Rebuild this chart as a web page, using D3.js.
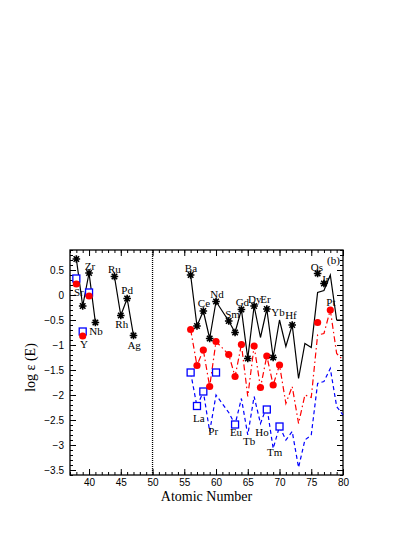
<!DOCTYPE html>
<meta charset="utf-8">
<style>
    body { margin: 0; background: #fff; }
    .tick text { font: 10px "Liberation Sans", sans-serif; }
    .el { font: 11px "Liberation Serif", serif; }
</style>
<svg width="415" height="537"></svg>
<script src="https://d3js.org/d3.v7.min.js"></script>
<script>
    // light elements (first two groups)
    var zFirst = [38, 39, 40, 41];
    var blackFirst = [0.72, -0.22, 0.44, -0.55];
    var zSecond = [44, 45, 46, 47];
    var blackSecond = [0.37, -0.41, -0.07, -0.81];

    // heavy elements
    var zHeavy = [56, 57, 58, 59, 60, 62, 63, 64, 65, 66, 67, 68, 69, 70, 71, 72, 73, 74, 75, 76, 77, 78, 79, 80];
    var blackHeavy = [0.40, -0.62, -0.32, -0.87, -0.13, -0.52, -0.75, -0.29, -1.27, -0.22, -0.85, -0.28, -1.25, -0.50, -1.03, -0.60, -1.67, -0.97, -1.05, 0.05, 0.09, 0.40, -0.50, -0.50];
    var redHeavy = [-0.69, -1.41, -1.10, -1.83, -0.93, -1.19, -1.63, -0.99, -2.03, -1.02, -1.85, -1.22, -1.80, -1.40, -2.17, -1.83, -2.57, -2.00, -2.05, -0.80, -0.77, -0.30, -1.17, -1.30];
    var blueHeavy = [-1.55, -2.23, -1.93, -2.73, -2.00, -2.35, -2.59, -2.07, -2.80, -2.03, -2.57, -2.23, -3.07, -2.63, -2.90, -2.73, -3.45, -2.90, -2.80, -1.77, -1.73, -1.47, -2.23, -2.40];

    // markers
    var starZ = [38, 39, 40, 41, 44, 45, 46, 47, 56, 57, 58, 59, 60, 62, 63, 64, 65, 66, 68, 69, 72, 76, 77];
    var starVals = [0.72, -0.22, 0.44, -0.55, 0.37, -0.41, -0.07, -0.81, 0.40, -0.62, -0.32, -0.87, -0.13, -0.52, -0.75, -0.29, -1.27, -0.22, -0.28, -1.25, -0.60, 0.43, 0.23];
    var redDotZ = [38, 39, 40, 56, 57, 58, 59, 60, 62, 63, 64, 66, 67, 68, 69, 70, 76, 78];
    var redDotVals = [0.22, -0.82, -0.02, -0.69, -1.41, -1.10, -1.83, -0.93, -1.19, -1.63, -0.99, -1.02, -1.85, -1.22, -1.80, -1.40, -0.55, -0.30];
    var blueSqZ = [38, 39, 40, 56, 57, 58, 60, 63, 68, 70];
    var blueSqVals = [0.33, -0.73, 0.05, -1.55, -2.22, -1.93, -1.55, -2.59, -2.29, -2.63];

    // element labels (position in data units)
    var labelText = ["Sr", "Zr", "Y", "Nb", "Ru", "Pd", "Rh", "Ag", "Ba", "Ce", "Nd", "Sm", "Gd", "Dy", "Er", "Yb", "Hf", "Os", "Ir", "Pt", "La", "Pr", "Eu", "Tb", "Ho", "Tm"];
    var labelZ = [38.4, 40.15, 39.2, 41.1, 44.0, 46.0, 45.15, 47.1, 56.05, 58.1, 60.15, 62.6, 64.15, 66.1, 67.8, 69.75, 71.8, 75.9, 77.3, 78.1, 57.3, 59.55, 63.15, 65.2, 67.25, 69.25];
    var labelY = [-0.02, 0.50, -1.06, -0.80, 0.44, 0.02, -0.66, -1.08, 0.46, -0.24, -0.06, -0.46, -0.22, -0.16, -0.16, -0.42, -0.48, 0.48, 0.24, -0.22, -2.54, -2.80, -2.82, -3.00, -2.82, -3.22];

    var xTicks = [40, 45, 50, 55, 60, 65, 70, 75, 80];
    var yTicks = [0.5, 0, -0.5, -1, -1.5, -2, -2.5, -3, -3.5];

    var svg = d3.select("svg"),
        margin = {top: 250, right: 72, bottom: 62, left: 70},
        width = +svg.attr("width") - margin.left - margin.right,
        height = +svg.attr("height") - margin.top - margin.bottom;

    var x = d3.scaleLinear().domain([37, 80]).range([0, width]);
    var y = d3.scaleLinear().domain([-3.6, 0.9]).range([height, 0]);

    var g = svg.append("g").attr("transform", "translate(" + margin.left + "," + margin.top + ")");

    var fmt = function (d) { return d === 0 ? "0" : d3.format(".1~f")(d).replace("-", "\u2212"); };

    // axes: major + minor ticks inside on all four sides
    function axes(axisFn, scale, major, minor, tr, labels, pad) {
        var a = g.append("g").attr("transform", tr);
        a.call(axisFn(scale).tickValues(minor).tickSize(-3).tickFormat(""));
        a.append("g").call(axisFn(scale).tickValues(major).tickSize(-6).tickPadding(pad).tickFormat(labels ? fmt : ""));
        a.selectAll(".domain").remove();
        return a;
    }
    var xMinor = d3.range(37, 81, 1), yMinor = d3.range(-36, 10, 1).map(function (d) { return d / 10; });
    axes(d3.axisBottom, x, xTicks, xMinor, "translate(0," + height + ")", true, 4);
    axes(d3.axisTop, x, xTicks, xMinor, "translate(0,0)", false, 4);
    axes(d3.axisLeft, y, yTicks, yMinor, "translate(0,0)", true, 6);
    axes(d3.axisRight, y, yTicks, yMinor, "translate(" + width + ",0)", false, 6);

    g.append("rect").attr("width", width).attr("height", height)
        .attr("fill", "none").attr("stroke", "#000").attr("stroke-width", 1.3);

    // divider at Z = 50
    g.append("line").attr("x1", x(50)).attr("x2", x(50)).attr("y1", 0).attr("y2", height)
        .attr("stroke", "#000").attr("stroke-width", 1.3).attr("stroke-dasharray", "1,1");

    var line = d3.line().x(function (d) { return x(d[0]); }).y(function (d) { return y(d[1]); });
    function pairs(zs, vs) { return zs.map(function (z, i) { return [z, vs[i]]; }); }

    g.append("path").datum(pairs(zHeavy, blueHeavy)).attr("d", line)
        .attr("fill", "none").attr("stroke", "#0000ff").attr("stroke-width", 1.2).attr("stroke-dasharray", "4,3");
    g.append("path").datum(pairs(zHeavy, redHeavy)).attr("d", line)
        .attr("fill", "none").attr("stroke", "#ff0000").attr("stroke-width", 1.2).attr("stroke-dasharray", "6,3,1.5,3");
    [pairs(zFirst, blackFirst), pairs(zSecond, blackSecond), pairs(zHeavy, blackHeavy)].forEach(function (p) {
        g.append("path").datum(p).attr("d", line)
            .attr("fill", "none").attr("stroke", "#000").attr("stroke-width", 1.2);
    });

    // blue open squares
    g.selectAll(".sq").data(pairs(blueSqZ, blueSqVals)).enter().append("rect")
        .attr("x", function (d) { return x(d[0]) - 3.5; })
        .attr("y", function (d) { return y(d[1]) - 3.5; })
        .attr("width", 7).attr("height", 7)
        .attr("fill", "#fff").attr("stroke", "#0000ff").attr("stroke-width", 1.3);

    // red dots
    g.selectAll(".dot").data(pairs(redDotZ, redDotVals)).enter().append("circle")
        .attr("cx", function (d) { return x(d[0]); })
        .attr("cy", function (d) { return y(d[1]); })
        .attr("r", 3.6).attr("fill", "#ff0000");

    // asterisks
    var r = 3.8, q = r * 0.72;
    var star = "M" + (-r) + ",0L" + r + ",0M0," + (-r) + "L0," + r +
        "M" + (-q) + "," + (-q) + "L" + q + "," + q + "M" + (-q) + "," + q + "L" + q + "," + (-q);
    g.selectAll(".star").data(pairs(starZ, starVals)).enter().append("path")
        .attr("transform", function (d) { return "translate(" + x(d[0]) + "," + y(d[1]) + ")"; })
        .attr("d", star).attr("stroke", "#000").attr("stroke-width", 1.6);

    // element labels
    g.selectAll(".el").data(labelText).enter().append("text")
        .attr("class", "el")
        .attr("x", function (d, i) { return x(labelZ[i]); })
        .attr("y", function (d, i) { return y(labelY[i]); })
        .attr("text-anchor", "middle")
        .text(function (d) { return d; });

    g.append("text").attr("class", "el").attr("x", x(78.5)).attr("y", y(0.62))
        .attr("text-anchor", "middle").text("(b)");

    // axis titles
    svg.append("text").attr("x", margin.left + width / 2).attr("y", 501)
        .attr("text-anchor", "middle").style("font", "14px 'Liberation Serif', serif")
        .text("Atomic Number");
    svg.append("text").attr("transform", "translate(35," + (margin.top + y(-1.45)) + ") rotate(-90)")
        .attr("text-anchor", "middle").style("font", "14px 'Liberation Serif', serif")
        .text("log \u03b5 (E)");
</script>
